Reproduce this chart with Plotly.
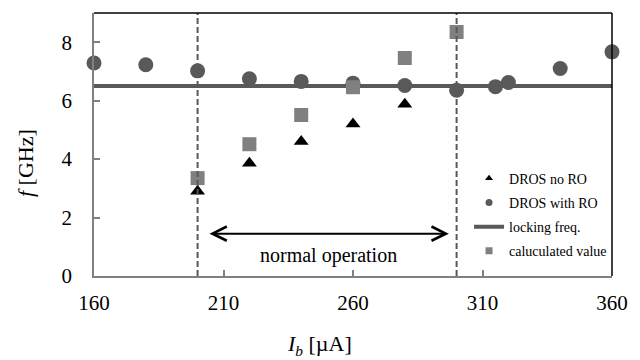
import plotly.graph_objects as go

# Bias current sweep (µA) and measured / calculated frequencies (GHz)
ib_no_ro = [200, 220, 240, 260, 280]
f_no_ro = [2.9, 3.86, 4.6, 5.2, 5.88]

ib_with_ro = [160, 180, 200, 220, 240, 260, 280, 300, 315, 320, 340, 360]
f_with_ro = [7.29, 7.23, 7.02, 6.75, 6.66, 6.6, 6.52, 6.36, 6.48, 6.62, 7.1, 7.67]

ib_calc = [200, 220, 240, 260, 280, 300]
f_calc = [3.35, 4.51, 5.51, 6.46, 7.46, 8.35]

lock_ib = [160, 360]
lock_f = [6.5, 6.5]

# Boundaries of the normal operation range
range_edges = [200, 300]
arrow_ib = [204, 297]
arrow_f = 1.45

x_ticks = [160, 210, 260, 310, 360]
y_ticks = [0, 2, 4, 6, 8]

FONT = "Times New Roman, Liberation Serif, Times, serif"
DARK = "#595959"
MID = "#808080"

fig = go.Figure()

# plotted series (drawing order: line, circles, squares, triangles)
fig.add_trace(go.Scatter(x=lock_ib, y=lock_f, mode="lines",
                         line=dict(color=DARK, width=4), showlegend=False))
fig.add_trace(go.Scatter(x=ib_with_ro, y=f_with_ro, mode="markers",
                         marker=dict(symbol="circle", size=15, color=DARK),
                         showlegend=False, cliponaxis=False))
fig.add_trace(go.Scatter(x=ib_calc, y=f_calc, mode="markers",
                         marker=dict(symbol="square", size=14, color=MID),
                         showlegend=False, cliponaxis=False))
fig.add_trace(go.Scatter(x=ib_no_ro, y=f_no_ro, mode="markers",
                         marker=dict(symbol="triangle-up", size=13, color="black"),
                         showlegend=False, cliponaxis=False))

# compact legend entries
legend_items = [
    ("DROS no RO", dict(mode="markers", marker=dict(symbol="triangle-up", size=7, color="black"))),
    ("DROS with RO", dict(mode="markers", marker=dict(symbol="circle", size=7, color=DARK))),
    ("locking freq.", dict(mode="lines", line=dict(color=DARK, width=4))),
    ("caluculated value", dict(mode="markers", marker=dict(symbol="square", size=7, color=MID))),
]
for i, (name, style) in enumerate(legend_items):
    fig.add_trace(go.Scatter(x=[None], y=[None], name=name, legendgroup=name,
                             legendrank=i + 1, showlegend=True, **style))

# dashed boundaries of the operating range
for xe in range_edges:
    fig.add_shape(type="line", xref="x", yref="paper", x0=xe, x1=xe, y0=0, y1=1,
                  line=dict(color=DARK, width=2, dash="6px,3px"))

# top and right frame
fig.add_shape(type="line", xref="paper", yref="paper", x0=0, x1=1, y0=1, y1=1,
              line=dict(color="black", width=1.5))
fig.add_shape(type="line", xref="paper", yref="paper", x0=1, x1=1, y0=0, y1=1,
              line=dict(color="black", width=1.5))

# double-headed arrow for the normal operation range
fig.add_annotation(x=arrow_ib[1], y=arrow_f, ax=arrow_ib[0], ay=arrow_f,
                   xref="x", yref="y", axref="x", ayref="y", text="",
                   showarrow=True, arrowhead=5, startarrowhead=5,
                   arrowside="end+start", arrowsize=1.4, startarrowsize=1.4,
                   arrowwidth=2, arrowcolor="black")
fig.add_annotation(x=(arrow_ib[0] + arrow_ib[1]) / 2, y=0.7, xref="x", yref="y",
                   text="normal operation", showarrow=False,
                   font=dict(family=FONT, size=20, color="black"))

# axis titles
fig.add_annotation(x=-0.131, y=0.43, xref="paper", yref="paper",
                   xanchor="center", yanchor="middle",
                   text="<i>f</i> [GHz]", textangle=-90, showarrow=False,
                   font=dict(family=FONT, size=22, color="black"))
fig.add_annotation(x=0.436, y=-0.262, xref="paper", yref="paper",
                   xanchor="center", yanchor="middle",
                   text="<i>I<sub>b</sub></i> [µA]", showarrow=False,
                   font=dict(family=FONT, size=22, color="black"))

fig.update_layout(
    width=640, height=360,
    margin=dict(l=94, r=28, t=13, b=84),
    paper_bgcolor="white", plot_bgcolor="white",
    font=dict(family=FONT, color="black"),
    showlegend=True,
    legend=dict(x=0.724, y=0.431, xanchor="left", yanchor="top",
                bgcolor="rgba(0,0,0,0)", borderwidth=0,
                font=dict(family=FONT, size=14, color="black"),
                traceorder="grouped", tracegroupgap=3, itemwidth=30),
)
fig.update_xaxes(range=[160, 360], tickvals=x_ticks, showgrid=False, zeroline=False,
                 showline=True, linecolor=MID, linewidth=1.5,
                 ticks="inside", ticklen=6, tickcolor=MID, tickwidth=1.5,
                 tickfont=dict(family=FONT, size=21, color="black"),
                 ticklabelstandoff=7)
fig.update_yaxes(range=[0, 9], tickvals=y_ticks, showgrid=False, zeroline=False,
                 showline=True, linecolor=MID, linewidth=1.5,
                 ticks="inside", ticklen=6, tickcolor=MID, tickwidth=1.5,
                 tickfont=dict(family=FONT, size=21, color="black"),
                 ticklabelstandoff=16)

fig.write_html("out.html")
